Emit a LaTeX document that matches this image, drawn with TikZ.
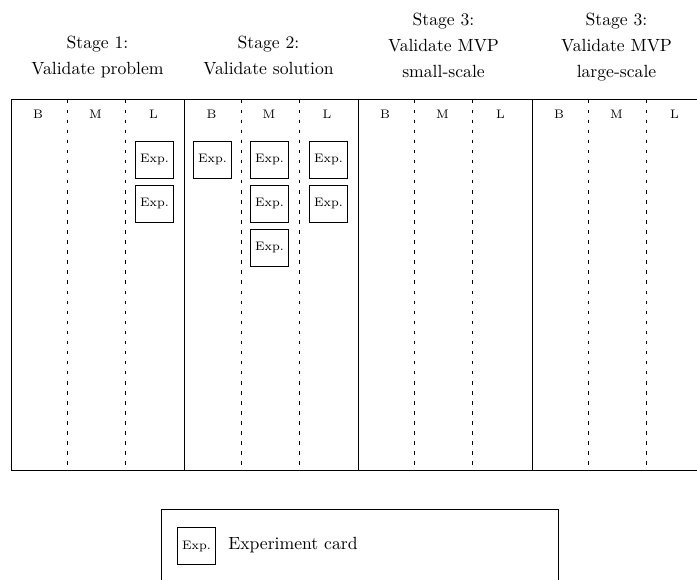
\documentclass[tikz,border=0pt]{standalone}
\begin{document}
\begin{tikzpicture}[x=0.567pt,y=-0.567pt,
  frame/.style={line width=0.6pt},
  divider/.style={line width=0.6pt, dash pattern=on 2pt off 3.7pt},
  stagelabel/.style={align=center, anchor=south, inner sep=0pt, text depth=0pt, font=\fontsize{10}{14.6}\selectfont},
  collabel/.style={font=\scriptsize, inner sep=0pt, anchor=base},
  expcard/.style={draw, line width=0.5pt, font=\scriptsize, minimum width=21.6pt, minimum height=21pt, inner sep=1pt},
  legendtext/.style={anchor=base west, inner sep=0pt},
]
\clip (0,0) rectangle (697,579);
% stage headers
\node[stagelabel] (s1) at (97.5,75) {Stage 1:\\Validate problem};
\node[stagelabel] (s2) at (268.5,75) {Stage 2:\\Validate solution};
\node[stagelabel] (s3) at (443.5,77.5) {Stage 3:\\Validate MVP\\small-scale};
\node[stagelabel] (s4) at (616.5,77.5) {Stage 3:\\Validate MVP\\large-scale};
% table frame
\draw[frame] (11.5,99.5) rectangle (705.5,470.5);
\foreach \x in {184.5,358.5,532.5} \draw[frame] (\x,99.5) -- (\x,470.5);
\foreach \x in {67.5,125.5,241.5,299.5,414.5,472.5,588.5,646.5} \draw[divider] (\x,99.5) -- (\x,470.5);
% column labels
\foreach \s/\n in {11/a,184.5/b,358/c,532/d}{
  \node[collabel] (B\n) at (\s+27,118) {B};
  \node[collabel] (M\n) at (\s+84.5,118) {M};
  \node[collabel] (L\n) at (\s+142.5,118) {L};
}
% experiment cards
\node[expcard] (e1) at (154.5,159.5) {Exp.};
\node[expcard] (e2) at (154.5,203.5) {Exp.};
\node[expcard] (e3) at (212.5,159.5) {Exp.};
\node[expcard] (e4) at (269.5,159.5) {Exp.};
\node[expcard] (e5) at (269.5,203.5) {Exp.};
\node[expcard] (e6) at (269.5,247.5) {Exp.};
\node[expcard] (e7) at (328.5,159.5) {Exp.};
\node[expcard] (e8) at (328.5,203.5) {Exp.};
% legend
\draw[frame] (161.5,509.5) rectangle (558.5,600);
\node[expcard] (lg) at (196.5,546) {Exp.};
\node[legendtext] (lgt) at (228,549.5) {Experiment card};
\end{tikzpicture}
\end{document}
